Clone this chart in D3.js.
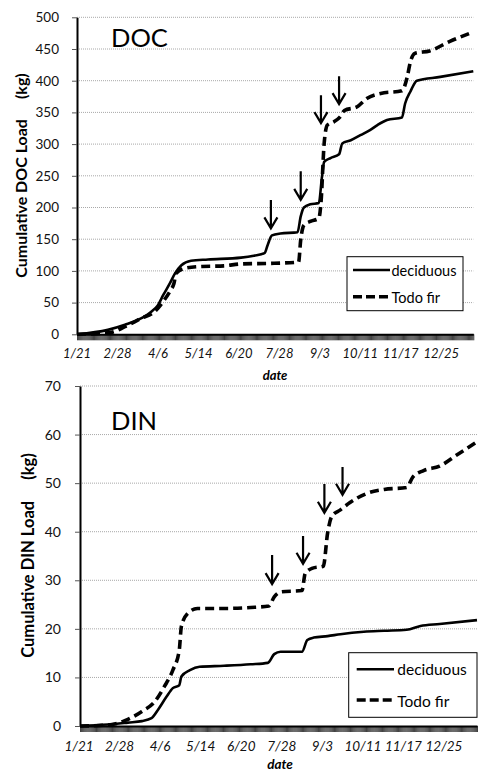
<!DOCTYPE html>
<html><head><meta charset="utf-8">
<script src="https://cdn.jsdelivr.net/npm/d3@7"></script>
<style>
body{margin:0;background:#fff}
svg{display:block;font-family:Lato,"Open Sans",sans-serif}
</style>
</head><body>
<script>
// ---- data ----
const N = 372; // number of daily categories on the x axis
const tickLabels = ["1/21","2/28","4/6","5/14","6/20","7/28","9/3","10/11","11/17","12/25"];
const tickIdx = [0,38,76,114,152,190,228,266,304,342];

const docDecDay = [0,29,45,60,70,76,81,87,92,98,107,123,154,166,176,179,183,191,207,210,213,219,227,230,232,238,246,249,257,266,275,282,291,305,308,313,319,341,372];
const docDecVal = [0,7,15,25,36,46,62,80,96,109,116,118,121,124,128,141,156,159,161,186,200,205,207,249,272,278,284,301,306,314,322,330,338,342,364,383,400,406,415];
const docFirDay = [0,32,45,60,73,81,88,91,93,101,117,138,154,185,208,210,213,219,227,229,232,235,241,247,251,263,272,285,305,310,313,317,331,350,372];
const docFirVal = [0,3,12,25,36,52,70,80,96,104,107,108,111,112,114,149,172,178,183,207,301,330,335,343,353,359,372,380,384,406,430,443,447,462,477];

const dinDecDay = [0,26,45,58,67,73,81,87,93,95,103,112,135,160,176,182,188,208,213,219,232,244,266,285,306,319,337,372];
const dinDecVal = [0,0.3,0.7,1.0,1.6,3.3,6.0,7.8,8.4,10.2,11.5,12.2,12.4,12.7,13.0,14.8,15.3,15.3,17.7,18.2,18.5,18.9,19.4,19.6,19.8,20.6,21.0,21.8];
const dinFirDay = [0,26,42,58,70,79,87,93,95,101,110,135,160,177,182,188,208,211,218,228,232,236,244,253,269,285,306,312,322,337,353,372];
const dinFirVal = [0,0.2,1.1,3.0,5.0,8.1,11.5,15.6,20.5,23.2,24.2,24.2,24.4,24.7,26.6,27.6,27.9,31.4,32.5,32.9,39.7,43.2,44.5,46.0,47.9,48.7,49.1,51.3,52.6,53.5,55.8,58.5];

const docArrowDay = [182,210,229,246];
const docArrowTop = [212,257,377,407];
const docArrowTip = [167,212,333,363];
const dinArrowDay = [180,209,229,246];
const dinArrowTop = [35.2,39.1,49.8,53.3];
const dinArrowTip = [29.2,33.4,43.9,47.6];

const docYTicks = [0,50,100,150,200,250,300,350,400,450,500];
const dinYTicks = [0,10,20,30,40,50,60,70];
const seriesNames = ["deciduous","Todo fir"];

// ---- drawing ----
const W = 478, H = 773;
const svg = d3.select("body").append("svg").attr("width", W).attr("height", H);
svg.append("rect").attr("width", W).attr("height", H).attr("fill", "#fff");

function drawPanel(p) {
  const x = d3.scaleLinear().domain([0, N]).range([p.left, p.right]);
  const y = d3.scaleLinear().domain([0, p.yMax]).range([p.bottom, p.top]);
  const g = svg.append("g");

  // gridlines
  g.selectAll("line.grid").data(p.yTicks.filter(v => v > 0)).join("line")
    .attr("x1", p.left).attr("x2", p.gridRight)
    .attr("y1", d => y(d)).attr("y2", d => y(d))
    .attr("stroke", "#a8a8a8").attr("stroke-width", 1).attr("stroke-dasharray", "1,1");

  // x axis: dense daily ticks
  const xAx = g.append("g").attr("transform", `translate(0,${p.bottom})`)
    .call(d3.axisBottom(x).tickValues(d3.range(0, N + 1)).tickSize(p.xTickLen).tickSizeOuter(0).tickFormat(""));
  xAx.select(".domain").attr("stroke", "#000").attr("stroke-width", 2);
  xAx.selectAll(".tick line").attr("stroke", "#000").attr("stroke-width", 0.75);

  // x tick labels
  g.selectAll("text.xl").data(tickLabels).join("text")
    .attr("x", (d, i) => x(tickIdx[i]) + p.labelShift)
    .attr("y", p.xLabelY)
    .attr("text-anchor", "middle")
    .attr("font-size", p.xLabelSize).attr("font-style", "italic").attr("fill", "#111")
    .text(d => d);

  // y axis
  const yAx = g.append("g").attr("transform", `translate(${p.left},0)`)
    .call(d3.axisLeft(y).tickValues(p.yTicks).tickSize(5).tickSizeOuter(0).tickPadding(p.yPad));
  yAx.select(".domain").attr("stroke", "#000").attr("stroke-width", 2);
  yAx.selectAll(".tick line").attr("stroke", "#555").attr("stroke-width", 1);
  yAx.selectAll(".tick text").attr("font-size", p.yLabelSize).attr("font-family", "Lato, sans-serif").attr("fill", "#111");

  // series lines
  const line = d3.line().x(d => x(d[0])).y(d => y(d[1])).curve(d3.curveMonotoneX);
  g.append("path").datum(d3.zip(p.decDay, p.decVal))
    .attr("d", line).attr("fill", "none").attr("stroke", "#000").attr("stroke-width", 2.6)
    .attr("stroke-linejoin", "round");
  g.append("path").datum(d3.zip(p.firDay, p.firVal))
    .attr("d", line).attr("fill", "none").attr("stroke", "#000").attr("stroke-width", 3.6)
    .attr("stroke-dasharray", "9,5").attr("stroke-linejoin", "round");

  // arrows
  p.arrowDay.forEach((d, i) => {
    const ax = x(d), y0 = y(p.arrowTop[i]), y1 = y(p.arrowTip[i]);
    g.append("path")
      .attr("d", `M${ax},${y0}L${ax},${y1}M${ax - 6.5},${y1 - 11}L${ax},${y1}L${ax + 6.5},${y1 - 11}`)
      .attr("fill", "none").attr("stroke", "#000").attr("stroke-width", 2.2);
  });

  // panel label
  g.append("text").attr("x", p.tagX).attr("y", p.tagY).attr("font-size", p.tagSize).attr("fill", "#000").text(p.tag);

  // y title
  const yt = g.append("text")
    .attr("transform", `translate(${p.yTitleX},${p.yTitleY}) rotate(-90)`)
    .attr("text-anchor", "middle").attr("dominant-baseline", "central")
    .attr("font-size", p.yTitleSize).attr("font-weight", "bold").attr("fill", "#000");
  yt.append("tspan").text(p.yTitle);
  yt.append("tspan").attr("dx", p.yTitleGap).text("(kg)");

  // x title
  g.append("text").attr("x", p.xTitleX).attr("y", p.xTitleY).attr("text-anchor", "middle")
    .attr("font-size", p.xTitleSize).attr("font-weight", "bold").attr("font-style", "italic").attr("fill", "#000")
    .text("date");

  // legend
  const L = p.legend;
  g.append("rect").attr("x", L.x).attr("y", L.y).attr("width", L.w).attr("height", L.h)
    .attr("fill", "#fff").attr("stroke", "#000").attr("stroke-width", 1);
  seriesNames.forEach((name, i) => {
    const ly = L.rowY[i];
    g.append("line").attr("x1", L.lx1).attr("x2", L.lx2).attr("y1", ly).attr("y2", ly)
      .attr("stroke", "#000").attr("stroke-width", i === 0 ? 2.6 : 3.6)
      .attr("stroke-dasharray", i === 0 ? null : "9,4");
    g.append("text").attr("x", L.tx).attr("y", L.textY[i]).attr("font-size", L.size).attr("fill", "#000").text(name);
  });
}

drawPanel({
  left: 77, right: 473.3, gridRight: 473.3, top: 17.3, bottom: 334.3, yMax: 500, yTicks: docYTicks,
  xTickLen: 6, xLabelY: 358, xLabelSize: 13, labelShift: 0, yPad: 13, yLabelSize: 13.5,
  decDay: docDecDay, decVal: docDecVal, firDay: docFirDay, firVal: docFirVal,
  arrowDay: docArrowDay, arrowTop: docArrowTop, arrowTip: docArrowTip,
  tag: "DOC", tagX: 111, tagY: 46.7, tagSize: 25.5,
  yTitle: "Cumulative DOC Load", yTitleX: 20, yTitleY: 175.5, yTitleSize: 16, yTitleGap: 20,
  xTitleX: 275, xTitleY: 380, xTitleSize: 13,
  legend: {x: 347, y: 256.7, w: 116, h: 54, lx1: 353, lx2: 390, rowY: [270, 296.7], tx: 391.5, textY: [276, 302.5], size: 14.5}
});

drawPanel({
  left: 80, right: 477, gridRight: 478, top: 386, bottom: 726, yMax: 70, yTicks: dinYTicks,
  xTickLen: 6, xLabelY: 751, xLabelSize: 13.5, labelShift: -1, yPad: 14, yLabelSize: 14,
  decDay: dinDecDay, decVal: dinDecVal, firDay: dinFirDay, firVal: dinFirVal,
  arrowDay: dinArrowDay, arrowTop: dinArrowTop, arrowTip: dinArrowTip,
  tag: "DIN", tagX: 111, tagY: 430, tagSize: 25.5,
  yTitle: "Cumulative DIN Load", yTitleX: 28, yTitleY: 555.5, yTitleSize: 16.5, yTitleGap: 21,
  xTitleX: 280, xTitleY: 768.5, xTitleSize: 13.5,
  legend: {x: 348.7, y: 652.7, w: 128.3, h: 64.6, lx1: 356.7, lx2: 394, rowY: [669.3, 700], tx: 397.3, textY: [675, 706.5], size: 15.5}
});
</script>
</body></html>
